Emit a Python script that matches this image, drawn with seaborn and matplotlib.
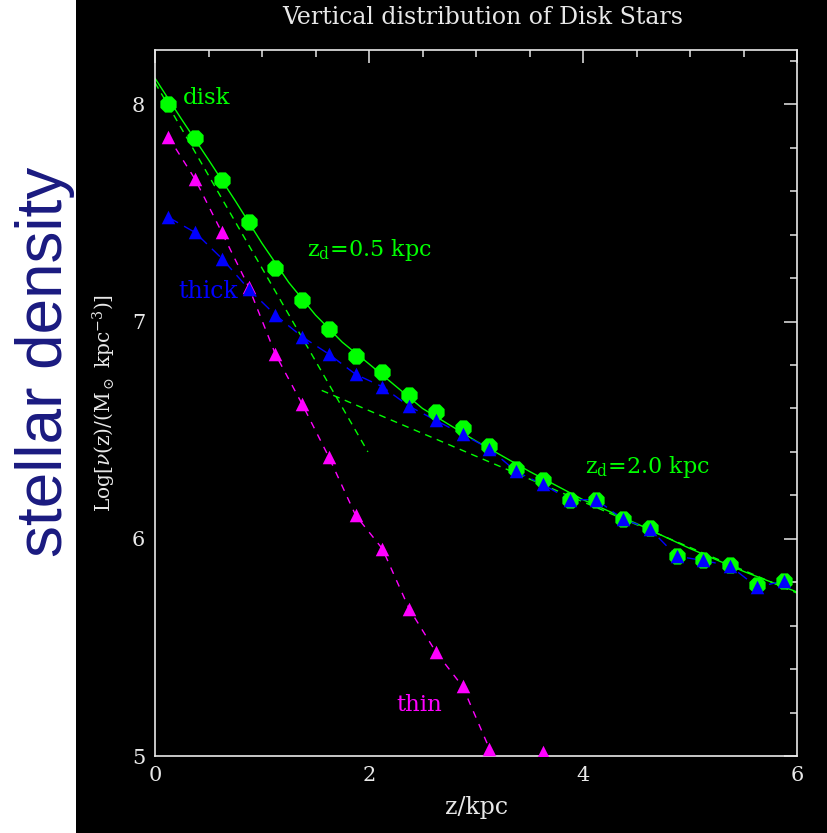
import matplotlib
matplotlib.use("Agg")
import matplotlib.pyplot as plt
import seaborn as sns
import pandas as pd
import numpy as np
from matplotlib.patches import Rectangle
from matplotlib.ticker import MultipleLocator

# ---------------- data ----------------
z_bins = [0.125, 0.375, 0.625, 0.875, 1.125, 1.375, 1.625, 1.875,
          2.125, 2.375, 2.625, 2.875, 3.125, 3.375, 3.625, 3.875,
          4.125, 4.375, 4.625, 4.875, 5.125, 5.375, 5.625, 5.875]
disk_vals = [8.00, 7.845, 7.65, 7.46, 7.245, 7.10, 6.965, 6.84,
             6.768, 6.66, 6.583, 6.51, 6.425, 6.32, 6.27, 6.18,
             6.18, 6.09, 6.05, 5.92, 5.90, 5.88, 5.785, 5.805]
thick_vals = [7.48, 7.41, 7.29, 7.15, 7.03, 6.93, 6.85, 6.757,
              6.70, 6.61, 6.545, 6.48, 6.415, 6.31, 6.25, 6.18,
              6.18, 6.09, 6.046, 5.92, 5.90, 5.875, 5.778, 5.805]
thin_vals = [7.85, 7.655, 7.41, 7.16, 6.85, 6.62, 6.376, 6.108,
             5.954, 5.678, 5.479, 5.32, 5.034, np.nan, 5.018, np.nan,
             np.nan, np.nan, np.nan, np.nan, np.nan, np.nan, np.nan, np.nan]

# total fit (solid green)
fit_total_z = [0.0, 0.25, 0.5, 0.75, 1.0, 1.25, 1.5, 1.75, 2.0,
               2.5, 3.0, 3.5, 4.0, 4.5, 5.0, 5.5, 6.0]
fit_total_v = [8.12, 7.93, 7.745, 7.556, 7.36, 7.18, 7.03, 6.905, 6.805,
               6.60, 6.45, 6.31, 6.18, 6.07, 5.955, 5.85, 5.755]
# single-exponential fits (dashed green)
fit05_z = [0.0, 1.99]
fit05_v = [8.10, 6.40]
fit20_z = [1.558, 6.0]
fit20_v = [6.683, 5.75]

x_ticks = [0, 2, 4, 6]
y_ticks = [5, 6, 7, 8]

GREEN = "#00ff00"
BLUE = "#0000ff"
MAGENTA = "#ff00ff"
FG = "#e8e8e8"

# ---------------- style ----------------
sns.set_theme(style="white")
plt.rcParams["font.family"] = ["DejaVu Serif"]
plt.rcParams["mathtext.fontset"] = "dejavuserif"

fig = plt.figure(figsize=(8.27, 8.33), dpi=100, facecolor="black")
fig.patches.append(Rectangle((0, 0), 76 / 827, 1, transform=fig.transFigure,
                             facecolor="white", edgecolor="none", zorder=0))

ax = fig.add_axes([155 / 827, 1 - 756 / 833, (797 - 155) / 827, (756 - 50) / 833])
ax.set_facecolor("black")

# fit lines
ax.plot(fit_total_z, fit_total_v, color=GREEN, lw=1.0, zorder=2)
ax.plot(fit05_z, fit05_v, color=GREEN, lw=1.0, ls=(0, (5, 4)), zorder=2)
ax.plot(fit20_z, fit20_v, color=GREEN, lw=1.0, ls=(0, (5, 4)), zorder=2)

# data connecting lines
thin_arr = np.array(thin_vals, dtype=float)
ax.plot(z_bins, thick_vals, color=BLUE, lw=1.0, ls=(0, (8, 5)), zorder=2)
ax.plot(z_bins, thin_arr, color=MAGENTA, lw=1.0, ls=(0, (5, 5)), zorder=2)

df = pd.DataFrame({"z": z_bins, "disk": disk_vals, "thick": thick_vals, "thin": thin_arr})
sns.scatterplot(data=df, x="z", y="disk", marker="8", s=160, color=GREEN,
                edgecolor=GREEN, linewidth=0, ax=ax, zorder=3)
sns.scatterplot(data=df.dropna(subset=["thin"]), x="z", y="thin", marker="^", s=95,
                color=MAGENTA, edgecolor=MAGENTA, linewidth=0, ax=ax, zorder=4)
sns.scatterplot(data=df, x="z", y="thick", marker="^", s=95, color=BLUE,
                edgecolor=BLUE, linewidth=0, ax=ax, zorder=5)

# annotations
ax.text(0.26, 8.03, "disk", color=GREEN, fontsize=16.5, ha="left", va="center")
ax.text(1.42, 7.33, r"z$_\mathrm{d}$=0.5 kpc", color=GREEN, fontsize=16, ha="left", va="center")
ax.text(0.215, 7.14, "thick", color=BLUE, fontsize=17, ha="left", va="center")
ax.text(4.02, 6.33, r"z$_\mathrm{d}$=2.0 kpc", color=GREEN, fontsize=16, ha="left", va="center")
ax.text(2.26, 5.233, "thin", color=MAGENTA, fontsize=16.5, ha="left", va="center")

# axes
ax.set_xlim(0, 6)
ax.set_ylim(5, 8.25)
ax.set_xticks(x_ticks)
ax.set_yticks(y_ticks)
ax.xaxis.set_minor_locator(MultipleLocator(0.5))
ax.yaxis.set_minor_locator(MultipleLocator(0.2))
ax.tick_params(which="both", direction="in", top=True, right=True, colors=FG,
               labelcolor=FG, width=1.1, labelsize=15, pad=7)
ax.tick_params(which="major", length=9.5)
ax.tick_params(which="minor", length=5)
for sp in ax.spines.values():
    sp.set_color(FG)
    sp.set_linewidth(1.2)

ax.set_xlabel("z/kpc", color=FG, fontsize=17, labelpad=8)
ax.set_ylabel(r"Log[$\nu$(z)/(M$_\odot$ kpc$^{-3}$)]", color=FG, fontsize=14.5, labelpad=10)

fig.text(483 / 827, 1 - 17 / 833, "Vertical distribution of Disk Stars",
         color=FG, fontsize=17, ha="center", va="center")
fig.text(45 / 827, 1 - 362 / 833, "stellar density", color="#1a1a80",
         fontsize=46, family=["Liberation Sans"], rotation=90,
         ha="center", va="center")

fig.savefig("out.png", dpi=100, facecolor="black")
